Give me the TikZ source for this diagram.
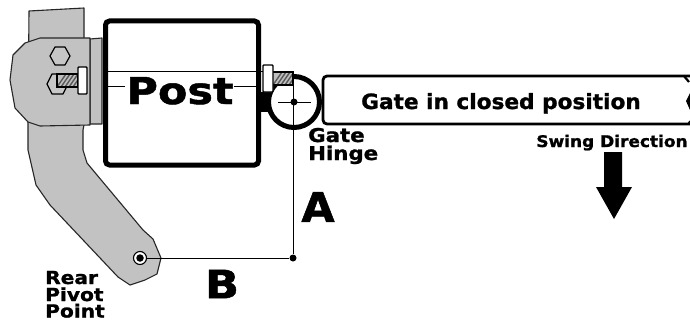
\documentclass[tikz,border=0pt]{standalone}
\usepackage{fontspec}
\setmainfont{DejaVu Sans}[BoldFeatures={FakeBold=1.2}]
\begin{document}
\begin{tikzpicture}[x=1pt,y=-1pt,
  metal/.style={fill=black!24,draw=black!85,line width=1.1pt,line join=round},
  hexbolt/.style={fill=black!22,draw=black,line width=1.2pt,line join=round},
  washer/.style={fill=white,draw=black,line width=1.4pt,rounded corners=.8pt},
  dimline/.style={draw=black,line width=.7pt},
  lbl/.style={inner sep=0pt,anchor=base west,align=left},
  blackdot/.style={circle,fill=black,inner sep=0pt}]
\useasboundingbox (0,0) rectangle (690,321);
\fill[white] (0,0) rectangle (690,321);
% arm
\draw[metal] (29,11) -- (84,8) -- (84,40) -- (84,125) -- (83,130) -- (83,150) -- (87,163) -- (97,175) -- (143,230) -- (153,239) -- (161,258) -- (157,274) -- (145,280) -- (130,285) -- (118,277) -- (50,205) -- (36,185) -- (28,150) -- (28,125) -- cycle;
% plate
\draw[metal] (90,39) -- (102,38) -- (102,124) -- (90,124) -- cycle;
% clamp
\draw[metal] (40,38) -- (90,38) -- (90,125) -- (40,126) -- (28,122) -- (15,108) -- (10,80) -- (13,55) -- (25,43) -- cycle;
\draw[hexbolt] (50,56) -- (55,47) -- (65,47) -- (70,56) -- (65,65) -- (55,65) -- cycle;
\draw[hexbolt] (47,84) -- (52,74) -- (63,74) -- (68,84) -- (63,94) -- (52,94) -- cycle;
% bolt
\fill[black!25] (57,74) rectangle (78,87);
\foreach \i in {0,4,...,20}{\draw[black!65,line width=1.4pt] ({57+\i},87) -- ({min(57+\i+9,78)},{87-min(9,78-57-\i)*13/9});}
\draw[black,line width=1.2pt] (57,74) rectangle (78,87);
\node[washer,minimum width=9pt,minimum height=27pt,inner sep=0pt] (wl) at (82.5,80.5) {};
% post
\node[draw=black,fill=white,line width=5pt,rounded corners=4pt,minimum width=153pt,minimum height=144pt,inner sep=0pt] (post) at (182,93) {};
\coordinate (pl) at (107,71); \coordinate (pr) at (263,71);
\draw[dimline] (pl) -- (pr);
\coordinate (pl2) at (107,86); \coordinate (pl3) at (125,86);
\draw[dimline] (pl2) -- (pl3);
\coordinate (pr2) at (234,86); \coordinate (pr3) at (258,86);
\draw[dimline] (pr2) -- (pr3);
\node[inner sep=0pt,anchor=base,xscale=1.16,font=\fontsize{37}{37}\bfseries\selectfont] (posttext) at (180,104) {Post};
% hinge
\fill[black] (258,92) rectangle (271,112);
\node[circle,draw=black,fill=white,line width=5pt,minimum size=51pt,inner sep=0pt] (hinge) at (294,102) {};
\fill[black!25] (273,72) rectangle (293,85);
\foreach \i in {0,4,...,16}{\draw[black!65,line width=1.4pt] ({273+\i},85) -- ({min(273+\i+9,293)},{85-min(9,293-273-\i)*13/9});}
\draw[black,line width=1.2pt] (273,72) -- (293,72) -- (293,85) -- (273,85);
\node[washer,minimum width=10pt,minimum height=27pt,inner sep=0pt] (wr) at (268,78.5) {};
\node[blackdot,minimum size=7pt] (hc) at (294,102) {};
\coordinate (hl) at (278,102); \coordinate (hr) at (311,102);
\draw[dimline,line width=1pt] (hl) -- (hr);
\node[blackdot,minimum size=7pt] (corner) at (293,258) {};
\coordinate (ht) at (293,85);
\draw[dimline] (ht) -- (corner);
% pivot
\node[circle,draw=black,fill=white,line width=1.1pt,minimum size=13pt,inner sep=0pt] (pivot) at (140,258) {};
\node[blackdot,minimum size=7.5pt] at (pivot) {};
\draw[dimline] (pivot.east) -- (corner);
% gate
\fill[white] (323,76) rectangle (690,124);
\draw[black,line width=2.8pt,rounded corners=4pt] (690,76) -- (323,76) -- (323,124) -- (690,124);
\draw[black,line width=2.2pt,rounded corners=3pt] (684,76) -- (689,82);
\fill[black] (690,93) -- (686,101) -- (690,110) -- cycle;
\draw[black,line width=1.5pt] (688,124) -- (690,121);
% arrow
\fill[black] (604,152) -- (622,152) -- (622,187) -- (632,187) -- (614,219) -- (596,187) -- (604,187) -- cycle;
% labels
\node[font=\fontsize{21}{21}\bfseries\selectfont,inner sep=0pt,xscale=1.03,anchor=base] (gatetext) at (501,109) {Gate in closed position};
\node[font=\fontsize{16}{16}\bfseries\selectfont,inner sep=0pt,xscale=1.06,anchor=base] (swing) at (612,147) {Swing Direction};
\node[lbl,xscale=1.12,font=\fontsize{19}{19}\bfseries\selectfont] (gh1) at (308,142) {Gate};
\node[lbl,xscale=1.12,font=\fontsize{19}{19}\bfseries\selectfont] (gh2) at (308,160) {Hinge};
\node[lbl,xscale=1.12,font=\fontsize{18}{18}\bfseries\selectfont] (rp1) at (45,284) {Rear};
\node[lbl,xscale=1.12,font=\fontsize{18}{18}\bfseries\selectfont] (rp2) at (45,301) {Pivot};
\node[lbl,xscale=1.12,font=\fontsize{18}{18}\bfseries\selectfont] (rp3) at (45,317.5) {Point};
\node[font=\fontsize{41}{41}\bfseries\selectfont,inner sep=0pt,xscale=1.05] (la) at (318,207) {A};
\node[font=\fontsize{39}{39}\bfseries\selectfont,inner sep=0pt,xscale=1.15] (lb) at (222,284) {B};
\end{tikzpicture}
\end{document}
